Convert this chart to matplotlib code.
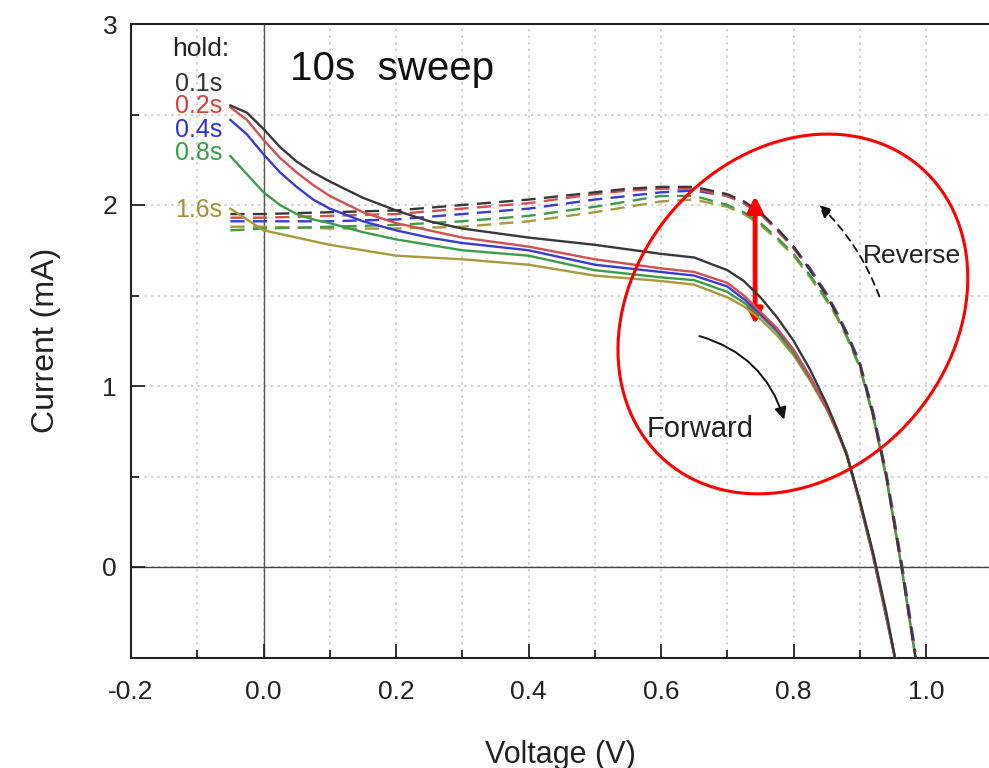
import numpy as np
import matplotlib
matplotlib.use('Agg')
import matplotlib.pyplot as plt
from matplotlib.patches import Ellipse
from matplotlib.transforms import ScaledTranslation
from matplotlib.ticker import MultipleLocator, FixedLocator

plt.rcParams['font.family'] = ['Liberation Sans', 'DejaVu Sans']

holds = ['0.1s', '0.2s', '0.4s', '0.8s', '1.6s']
colors = ['#383838', '#d45050', '#3a3ad6', '#3d9c4a', '#a89a3c']
label_colors = ['#333333', '#d83c3c', '#2f2fe0', '#34a048', '#a09432']

# forward sweep (solid)
v_fwd = [-0.05, -0.025, 0.0, 0.025, 0.05, 0.075, 0.1, 0.15, 0.2, 0.25, 0.3,
         0.4, 0.5, 0.6, 0.65, 0.7, 0.725, 0.75, 0.775, 0.8, 0.825, 0.85,
         0.865, 0.88, 0.9, 0.92, 0.94, 0.953]
i_fwd = [
    [2.55, 2.51, 2.42, 2.32, 2.24, 2.18, 2.13, 2.04, 1.97, 1.91, 1.87,
     1.82, 1.78, 1.73, 1.71, 1.64, 1.58, 1.49, 1.38, 1.25, 1.09, 0.90,
     0.77, 0.62, 0.37, 0.08, -0.25, -0.5],
    [2.54, 2.47, 2.36, 2.26, 2.18, 2.11, 2.05, 1.96, 1.90, 1.86, 1.82,
     1.77, 1.70, 1.65, 1.63, 1.57, 1.50, 1.41, 1.32, 1.20, 1.05, 0.88,
     0.76, 0.63, 0.36, 0.07, -0.27, -0.5],
    [2.47, 2.39, 2.28, 2.18, 2.10, 2.03, 1.98, 1.91, 1.86, 1.82, 1.79,
     1.75, 1.67, 1.63, 1.61, 1.55, 1.48, 1.40, 1.31, 1.20, 1.05, 0.88,
     0.76, 0.63, 0.36, 0.07, -0.27, -0.5],
    [2.27, 2.17, 2.07, 2.00, 1.95, 1.92, 1.90, 1.85, 1.81, 1.78, 1.75,
     1.72, 1.64, 1.60, 1.585, 1.52, 1.46, 1.39, 1.30, 1.18, 1.04, 0.88,
     0.76, 0.63, 0.36, 0.06, -0.28, -0.5],
    [1.98, 1.92, 1.86, 1.84, 1.82, 1.80, 1.78, 1.75, 1.72, 1.71, 1.70,
     1.67, 1.61, 1.58, 1.56, 1.49, 1.44, 1.37, 1.28, 1.17, 1.03, 0.87,
     0.75, 0.62, 0.35, 0.06, -0.28, -0.5],
]

# reverse sweep (dashed)
v_rev = [-0.05, 0.0, 0.1, 0.2, 0.3, 0.4, 0.5, 0.55, 0.6, 0.65, 0.7, 0.725,
         0.75, 0.775, 0.8, 0.825, 0.85, 0.865, 0.88, 0.9, 0.92, 0.94, 0.963, 0.984]
i_rev = [
    [1.95, 1.95, 1.96, 1.97, 2.00, 2.03, 2.07, 2.09, 2.10, 2.10, 2.06, 2.02,
     1.96, 1.87, 1.77, 1.64, 1.50, 1.40, 1.29, 1.12, 0.84, 0.50, 0.0, -0.5],
    [1.93, 1.93, 1.94, 1.95, 1.98, 2.01, 2.06, 2.08, 2.09, 2.09, 2.05, 2.01,
     1.95, 1.86, 1.76, 1.64, 1.50, 1.40, 1.29, 1.12, 0.84, 0.50, 0.0, -0.5],
    [1.91, 1.91, 1.91, 1.92, 1.95, 1.98, 2.03, 2.05, 2.07, 2.08, 2.05, 2.01,
     1.95, 1.87, 1.77, 1.65, 1.51, 1.41, 1.30, 1.13, 0.86, 0.52, 0.03, -0.47],
    [1.86, 1.87, 1.88, 1.89, 1.91, 1.94, 1.99, 2.02, 2.05, 2.05, 2.00, 1.96,
     1.90, 1.82, 1.73, 1.61, 1.48, 1.39, 1.28, 1.11, 0.84, 0.50, 0.0, -0.5],
    [1.88, 1.88, 1.87, 1.87, 1.88, 1.91, 1.96, 1.99, 2.02, 2.03, 1.99, 1.95,
     1.89, 1.81, 1.72, 1.60, 1.47, 1.38, 1.27, 1.10, 0.83, 0.49, 0.0, -0.5],
]

fig = plt.figure(figsize=(9.89, 7.68), dpi=100)
ax = fig.add_axes([131 / 989, 110.5 / 768, 858 / 989, 633.5 / 768])

# grid and zero lines
for v in np.arange(-0.1, 1.1, 0.1):
    ax.axvline(v, color='#cccccc', lw=1.2, ls=(0, (1.5, 2.5)), zorder=0)
for c in np.arange(-0.5, 3.0, 0.5):
    ax.axhline(c, color='#cccccc', lw=1.2, ls=(0, (1.5, 2.5)), zorder=0)
ax.axhline(0, color='#444444', lw=1.0, zorder=1)
ax.axvline(0, color='#555555', lw=1.0, zorder=1)

for k in range(len(holds) - 1, -1, -1):
    ax.plot(v_rev, i_rev[k], color=colors[k], lw=1.7, ls=(0, (6, 3.5)), zorder=3)
for k in range(len(holds) - 1, -1, -1):
    ax.plot(v_fwd, i_fwd[k], color=colors[k], lw=1.7, zorder=4)

ax.set_xlim(-0.2, 1.095)
ax.set_ylim(-0.5, 3)
ax.xaxis.set_major_locator(FixedLocator([-0.2, 0.0, 0.2, 0.4, 0.6, 0.8, 1.0]))
ax.xaxis.set_minor_locator(MultipleLocator(0.1))
ax.yaxis.set_major_locator(MultipleLocator(1))
ax.yaxis.set_minor_locator(MultipleLocator(0.5))
ax.set_xticklabels(['-0.2', '0.0', '0.2', '0.4', '0.6', '0.8', '1.0'])
ax.tick_params(which='major', direction='in', length=10, width=1.3, colors='#222222')
ax.tick_params(which='minor', direction='in', length=6, width=1.3, colors='#222222')
ax.tick_params(axis='x', which='major', labelsize=19, pad=16)
ax.tick_params(axis='y', which='major', labelsize=19, pad=10)
ax.spines['right'].set_visible(False)
for s in ['left', 'top', 'bottom']:
    ax.spines[s].set_linewidth(1.5)
    ax.spines[s].set_color('#222222')

ax.set_xlabel('Voltage (V)', fontsize=22, labelpad=26, color='#222222')
ax.set_ylabel('Current (mA)', fontsize=23, labelpad=30, color='#222222')

# legend-like labels
ax.text(-0.052, 2.86, 'hold:', fontsize=19, color='#222222', ha='right', va='center')
label_y = [2.67, 2.545, 2.415, 2.285, 1.97]
for k in range(len(holds)):
    ax.text(-0.062, label_y[k], holds[k], fontsize=18, color=label_colors[k],
            ha='right', va='center')

ax.text(0.04, 2.75, '10s  sweep', fontsize=29, color='#111111', ha='left', va='center')
ax.text(0.905, 1.72, 'Reverse', fontsize=19, color='#222222', ha='left', va='center')
ax.text(0.578, 0.765, 'Forward', fontsize=21, color='#222222', ha='left', va='center')

# curved arrows
ax.annotate('', xy=(0.836, 2.01), xytext=(0.931, 1.48),
            arrowprops=dict(arrowstyle='-|>', color='#111111', lw=1.3, ls=(0, (4, 3)),
                            connectionstyle='arc3,rad=0.12', mutation_scale=18))
ax.annotate('', xy=(0.787, 0.80), xytext=(0.654, 1.28),
            arrowprops=dict(arrowstyle='-|>', color='#111111', lw=1.4,
                            connectionstyle='arc3,rad=-0.28', mutation_scale=18))

# red double arrow
ax.annotate('', xy=(0.742, 2.05), xytext=(0.742, 1.34),
            arrowprops=dict(arrowstyle='<|-|>', color='#ff0000', lw=3.5,
                            mutation_scale=22, shrinkA=0, shrinkB=0))

# red ellipse around the hysteresis region
tr = fig.dpi_scale_trans + ScaledTranslation(0.799, 1.398, ax.transData)
ell = Ellipse((0, 0), width=3.89, height=3.17, angle=49, fill=False,
              edgecolor='#ff0000', lw=2.2, transform=tr, clip_on=False, zorder=6)
ax.add_patch(ell)

fig.savefig('out.png', dpi=100)
